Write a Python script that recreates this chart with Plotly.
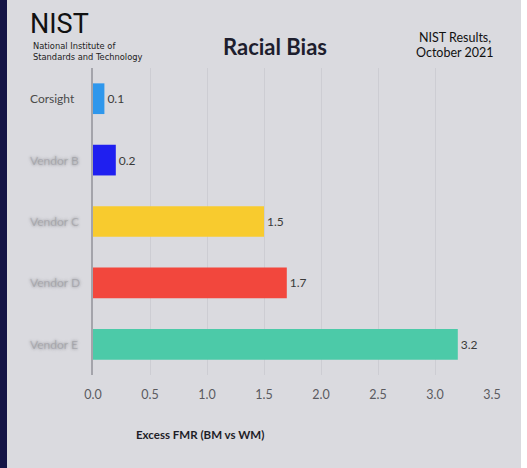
import plotly.graph_objects as go

categories = ["Corsight", "Vendor B", "Vendor C", "Vendor D", "Vendor E"]
values = [0.1, 0.2, 1.5, 1.7, 3.2]
bar_colors = ["#2f97ec", "#1f1ff0", "#f8cb2e", "#f2473d", "#4ccaa8"]
tick_vals = [0.0, 0.5, 1.0, 1.5, 2.0, 2.5, 3.0, 3.5]
tick_text = ["0.0", "0.5", "1.0", "1.5", "2.0", "2.5", "3.0", "3.5"]
title_text = "Racial Bias"
axis_title = "Excess FMR (BM vs WM)"
note_lines = ["NIST Results,", "October 2021"]
logo_word = "NIST"
logo_sub = ["National Institute of", "Standards and Technology"]

W, H = 527, 468
L, R, T, B = 93, 35, 68, 93
PW, PH = W - L - R, H - T - B


def px(x):
    return (x - L) / PW


def py(y):
    return (H - B - y) / PH


BG = "#dadadf"
FONT = "Lato"

fig = go.Figure(go.Bar(
    x=values, y=categories, orientation="h",
    marker=dict(color=bar_colors, line=dict(width=0)),
    text=[f"{v:.1f}" for v in values], textposition="outside",
    textfont=dict(family=FONT, size=12, color="#3a3a3a"),
    cliponaxis=False,
))

annotations = []
for i, c in enumerate(categories):
    if i == 0:
        f = dict(family=FONT, size=12, color="#4a4a4a")
    else:
        f = dict(family=FONT, size=12, color="rgba(90,90,95,0.2)",
                 shadow="0px 0px 2px #4c4c52, 0px 0px 3px #55555b, 0px 0px 4px #5a5a60")
    annotations.append(dict(x=px(28), xref="paper", y=c, yref="y", text=c,
                            showarrow=False, xanchor="left", yanchor="middle", font=f))


def note(x, y, text, font, xanchor="center"):
    return dict(x=px(x), y=py(y), xref="paper", yref="paper", text=text,
                showarrow=False, xanchor=xanchor, yanchor="middle", font=font)


annotations += [
    note(275, 47, f"<b>{title_text}</b>", dict(family=FONT, size=22, color="#1e1e2e")),
    note(455, 38, note_lines[0], dict(family=FONT, size=12.5, color="#111")),
    note(455, 53, note_lines[1], dict(family=FONT, size=12.5, color="#111")),
    note(28, 24, logo_word, dict(family="Roboto", size=27, color="#111"), "left"),
    note(31, 46, logo_sub[0], dict(family="DejaVu Sans", size=8.3, color="#222"), "left"),
    note(31, 57, logo_sub[1], dict(family="DejaVu Sans", size=8.3, color="#222"), "left"),
    note(200, 434, f"<b>{axis_title}</b>", dict(family=FONT, size=11.5, color="#1e1e28")),
]

shapes = [
    dict(type="rect", xref="paper", yref="paper", x0=px(0), x1=px(7), y0=py(H), y1=py(0),
         fillcolor="#141446", line=dict(width=0), layer="above"),
    dict(type="rect", xref="paper", yref="paper", x0=px(521), x1=px(W), y0=py(H), y1=py(0),
         fillcolor="#ffffff", line=dict(width=0), layer="above"),
]

fig.update_layout(
    width=W, height=H,
    margin=dict(l=L, r=R, t=T, b=B, pad=0),
    paper_bgcolor=BG, plot_bgcolor=BG,
    showlegend=False, bargap=0.5,
    annotations=annotations, shapes=shapes,
    xaxis=dict(range=[0, 3.5], tickvals=tick_vals, ticktext=tick_text,
               showgrid=True, gridcolor="#cdcdd3", gridwidth=1, zeroline=False,
               ticks="outside", ticklen=8, tickcolor="rgba(0,0,0,0)",
               tickfont=dict(family=FONT, size=12.5, color="#5a5a5f"), fixedrange=True),
    yaxis=dict(autorange="reversed", showticklabels=False, showgrid=False,
               showline=True, linecolor="#a4a4ab", linewidth=1.5, ticks=""),
)

fig.write_html("out.html", config={"displayModeBar": False},
               post_script="document.body.style.margin='0';")
